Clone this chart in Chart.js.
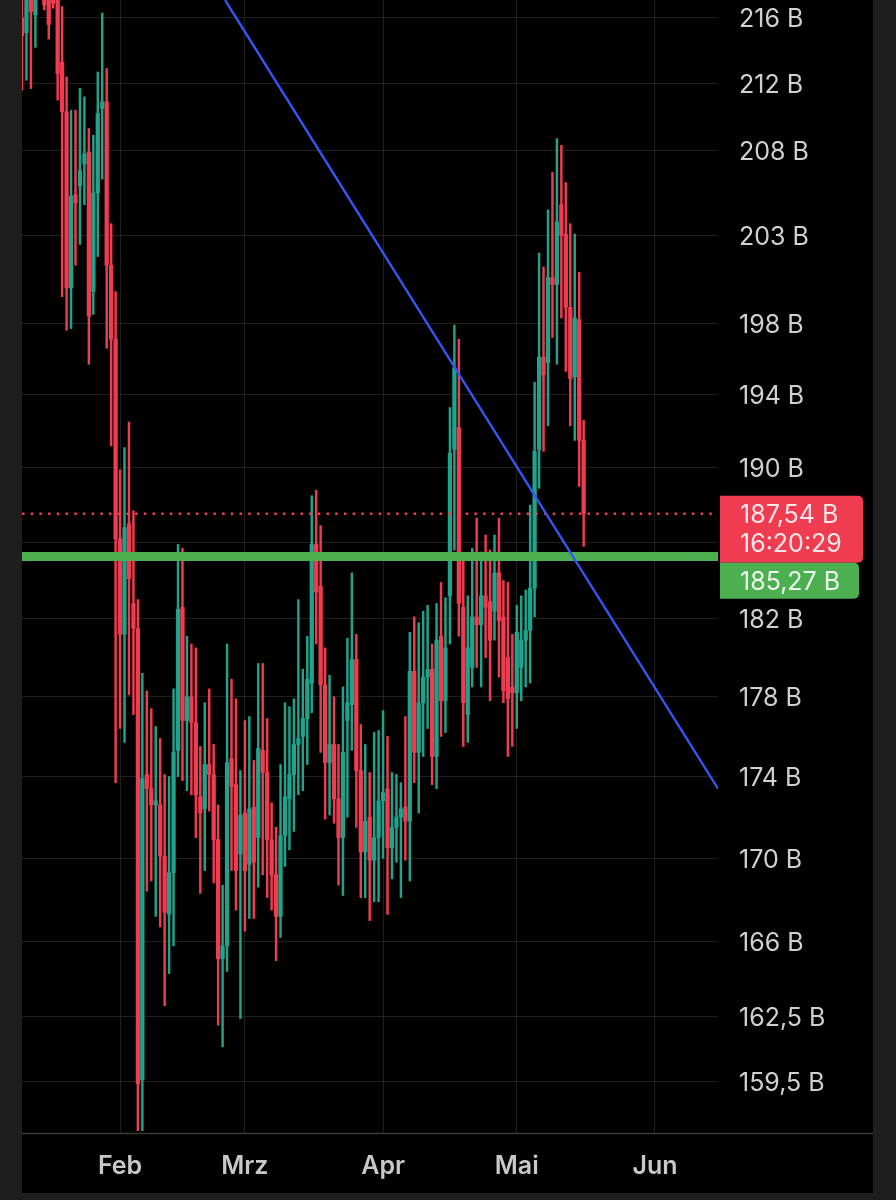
<!DOCTYPE html>
<html><head><meta charset="utf-8">
<script src="https://cdn.jsdelivr.net/npm/chart.js@4.4.1/dist/chart.umd.min.js"></script>
<style>
html,body{margin:0;padding:0;background:#1e1e1e;width:896px;height:1200px;overflow:hidden}
#wrap{position:absolute;left:22px;top:0;width:851px;height:1193px;background:#000}
canvas{display:block}
</style></head><body>
<div id="wrap"><canvas id="c" width="851" height="1193"></canvas></div>
<script>
// day of year 2025 (0 = 1 Jan)
const days = [9,10,11,12,13,14,15,16,17,18,19,20,21,22,23,24,25,26,27,28,29,30,31,32,33,34,35,36,37,38,39,40,41,42,43,44,45,46,47,48,49,50,51,52,53,54,55,56,57,58,59,60,61,62,63,64,65,66,67,68,69,70,71,72,73,74,75,76,77,78,79,80,81,82,83,84,85,86,87,88,89,90,91,92,93,94,95,96,97,98,99,100,101,102,103,104,105,106,107,108,109,110,111,112,113,114,115,116,117,118,119,120,121,122,123,124,125,126,127,128,129,130,131,132,133,134,135];
const openV = [216.0,215.1,217.4,216.2,219.3,218.4,217.7,218.4,217.4,213.3,210.3,200.0,205.4,205.9,207.2,207.9,199.8,205.5,210.5,210.9,201.3,197.1,186.2,181.2,187.0,182.8,181.5,159.6,174.1,173.4,172.6,172.6,170.1,167.3,169.3,175.3,182.6,176.8,178.0,176.7,173.0,172.4,174.6,174.1,170.9,165.2,165.8,174.9,173.6,170.2,172.2,169.7,172.5,171.0,175.3,174.2,170.9,169.2,167.2,171.1,172.9,174.1,175.6,176.0,176.9,178.7,185.9,183.7,178.6,174.7,175.6,172.9,171.0,176.8,177.6,179.9,174.3,170.3,172.0,169.9,171.0,172.8,173.4,170.5,171.5,172.0,172.5,171.8,179.3,175.2,177.7,179.0,179.4,175.0,181.1,177.8,183.2,191.0,192.2,182.6,177.1,179.5,182.1,181.7,183.2,182.9,182.4,184.4,182.1,180.0,178.5,178.2,179.5,180.9,181.4,183.6,191.0,196.1,195.8,200.6,200.2,204.8,203.1,198.9,195.0,198.2,191.5];
const highV = [218.4,218.4,218.4,218.7,219.9,219.6,219.0,219.6,218.4,216.7,212.4,210.4,210.4,211.7,211.2,209.3,208.9,212.7,216.3,212.9,203.7,199.8,189.9,191.1,192.5,187.7,183.0,179.2,178.3,177.4,176.5,175.9,174.1,174.0,178.4,185.9,185.7,181.1,180.7,180.5,175.5,177.7,178.4,175.6,172.6,168.7,180.7,178.9,177.9,174.3,176.8,177.0,174.8,179.7,179.7,176.9,172.7,171.5,174.6,177.7,177.5,177.9,183.0,179.4,181.1,188.5,188.8,186.9,180.5,179.1,178.0,175.6,178.5,181.0,184.4,181.2,176.6,175.6,174.2,176.2,176.3,177.3,176.0,174.2,174.1,173.7,177.0,181.3,182.1,181.8,182.4,182.7,180.7,182.8,183.9,183.1,193.3,197.9,197.1,185.1,183.2,185.7,187.3,185.5,186.4,185.6,186.4,187.3,184.0,183.9,181.2,182.7,183.2,183.5,188.0,194.7,202.0,201.2,204.5,206.7,208.7,208.3,206.1,203.7,203.1,200.9,192.6];
const lowV = [211.6,212.2,211.7,214.2,217.6,216.5,214.7,216.6,211.0,199.5,197.6,197.7,201.3,202.5,204.8,195.7,198.5,201.8,206.3,196.6,191.2,173.7,176.4,175.7,178.1,177.1,157.3,157.3,168.4,168.9,167.2,166.7,163.0,164.5,165.8,174.0,173.8,173.3,173.1,171.0,168.3,169.4,172.3,168.8,162.1,161.1,164.6,169.4,167.5,162.4,166.5,167.1,167.1,168.6,169.2,168.1,167.5,165.1,166.2,169.6,170.4,171.3,173.1,173.3,174.6,177.2,180.7,175.2,171.9,172.1,171.7,168.7,168.2,172.0,175.3,171.5,168.1,168.1,167.0,167.9,167.9,170.0,167.3,169.0,169.8,168.1,169.9,168.9,173.7,172.2,175.0,176.4,173.6,173.4,176.0,176.2,180.7,185.6,181.1,175.5,175.7,178.5,179.5,178.5,180.0,177.8,180.9,179.0,177.7,175.0,175.5,176.4,177.8,178.5,178.7,182.1,188.9,190.9,192.3,197.2,195.7,198.3,195.3,192.3,191.5,189.0,185.8];
const closeV = [214.9,217.4,216.4,217.7,218.4,216.8,215.6,216.9,212.6,210.3,200.0,205.3,204.9,206.8,207.8,198.4,205.5,210.2,210.9,201.3,197.1,186.2,181.2,186.8,184.1,181.5,159.4,173.9,173.4,172.6,172.8,170.1,167.4,169.3,175.2,182.5,176.8,178.0,176.7,173.1,172.2,174.6,174.1,170.9,165.2,165.8,174.7,173.5,169.4,172.1,169.4,172.4,169.8,175.4,174.2,170.9,169.2,167.2,171.1,173.0,174.1,175.6,175.9,176.9,178.9,185.9,183.4,178.6,174.7,175.6,172.9,171.0,175.2,177.7,179.9,174.3,170.3,171.8,169.9,171.0,172.8,173.2,170.5,171.5,172.0,172.4,171.8,179.3,175.2,177.7,179.0,179.4,175.0,180.9,177.8,180.5,190.8,195.5,182.8,177.7,180.5,182.1,181.7,183.2,182.6,180.9,184.4,181.9,178.3,177.9,178.2,181.3,180.9,181.4,183.6,190.9,196.1,195.1,200.6,200.2,203.8,203.0,198.9,194.9,198.3,191.5,187.54];

const yTicks = [216,212,208,203,198,194,190,186,182,178,174,170,166,162.5,159.5];
const monthTicks = [31,59,90,120,151];
const monthLabels = ['Feb','Mrz','Apr','Mai','Jun'];
const lastPrice = 187.54;
const lastTime = '16:20:29';
const supportLevel = 185.27;
const trendDays = [54.55, 165.14];
const trendValues = [217.11, 173.4];
const xRange = [9, 165.14];
const yRange = [157.19, 217.11];

const UP = '#21a38b', DOWN = '#f03c50';
const colors = days.map((d,i)=> closeV[i] >= openV[i] ? UP : DOWN);
const fmt = v => String(v).replace('.', ',') + ' B';
const noPad = s => { s.paddingTop = 0; s.paddingBottom = 0; s.paddingLeft = 0; s.paddingRight = 0; };

const overlay = {
  id: 'overlay',
  afterDraw(chart) {
    const ctx = chart.ctx, y = chart.scales.y, area = chart.chartArea;
    ctx.save();
    ctx.strokeStyle = '#3a3a3a'; ctx.lineWidth = 1.5;
    ctx.beginPath(); ctx.moveTo(0, area.bottom + 0.5); ctx.lineTo(chart.width, area.bottom + 0.5); ctx.stroke();
    const py = y.getPixelForValue(lastPrice);
    const bx = area.right + 2;
    const rTop = py - 18, rH = 67;
    ctx.fillStyle = '#f03c50';
    ctx.beginPath(); ctx.roundRect(bx, rTop, 143, rH, [0, 5, 5, 0]); ctx.fill();
    const gTop = rTop + rH, gH = 36;
    ctx.fillStyle = '#4caf50';
    ctx.beginPath(); ctx.roundRect(bx, gTop, 139, gH, [0, 5, 5, 0]); ctx.fill();
    ctx.font = '25px Inter'; ctx.textBaseline = 'middle'; ctx.textAlign = 'left';
    ctx.fillStyle = '#fbe6e8';
    ctx.fillText(fmt(lastPrice), bx + 20, py + 2);
    ctx.fillText(lastTime, bx + 20, py + 31);
    ctx.fillStyle = '#eef7ee';
    ctx.fillText(fmt(supportLevel), bx + 20, gTop + gH/2 + 2);
    ctx.restore();
  }
};

new Chart(document.getElementById('c'), {
  type: 'bar',
  data: {
    datasets: [
      { type:'line', data: trendDays.map((d,i)=>({x:d, y:trendValues[i]})), borderColor:'#3556f5', borderWidth:2.4, pointRadius:0, order:0 },
      { type:'line', data: xRange.map(d=>({x:d, y:supportLevel})), borderColor:'#4caf50', borderWidth:9, pointRadius:0, order:1 },
      { type:'line', data: [{x:xRange[0], y:lastPrice},{x:xRange[1]-1, y:lastPrice}], borderColor:'#ec3f50', borderWidth:2.5, borderDash:[2.5,6.2], pointRadius:0, order:2 },
      { data: days.map((d,i)=>({x:d, y:[openV[i], closeV[i]]})), backgroundColor: colors, barThickness: 3.6, grouped:false, minBarLength:1.5, order:3 },
      { data: days.map((d,i)=>({x:d, y:[lowV[i], highV[i]]})), backgroundColor: colors, barThickness: 1.8, grouped:false, order:4 }
    ]
  },
  options: {
    responsive:false, animation:false, devicePixelRatio:1,
    layout:{padding:0},
    plugins:{legend:{display:false}, tooltip:{enabled:false}},
    scales:{
      x:{ type:'linear', min:xRange[0], max:xRange[1], offset:false,
          grid:{color:'#202020', lineWidth:1, drawTicks:false, offset:false},
          border:{display:false},
          afterBuildTicks: s => { s.ticks = monthTicks.map(v=>({value:v})); },
          afterFit: s => { s.height = 60; noPad(s); },
          ticks:{ autoSkip:false, maxRotation:0, padding:18, color:'#c8c8c8',
                  font:{family:'Inter', size:25, weight:'600'},
                  callback: v => monthLabels[monthTicks.indexOf(v)] } },
      y:{ type:'logarithmic', position:'right', min:yRange[0], max:yRange[1], beginAtZero:false,
          grid:{color:'#202020', lineWidth:1, drawTicks:false},
          border:{display:false},
          afterBuildTicks: s => { s.ticks = yTicks.map(v=>({value:v})); },
          afterFit: s => { s.width = 155; noPad(s); },
          ticks:{ padding:21, labelOffset:2, color:'#d0d0d0', font:{family:'Inter', size:25},
                  callback: v => fmt(v) } }
    }
  },
  plugins:[overlay]
});
</script>
</body></html>
